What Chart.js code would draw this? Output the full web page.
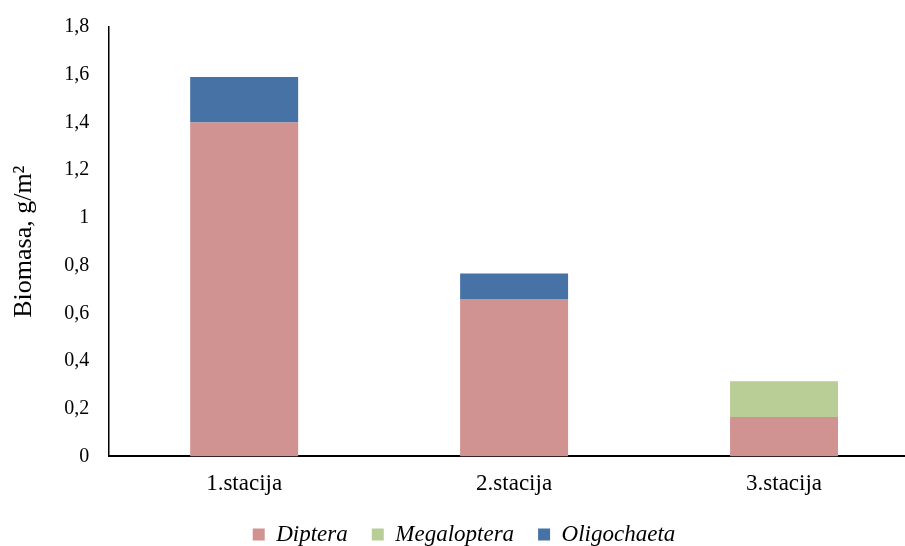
<!DOCTYPE html>
<html>
<head>
<meta charset="utf-8">
<script src="https://cdn.jsdelivr.net/npm/chart.js@4/dist/chart.umd.min.js"></script>
<style>
  html, body { margin: 0; padding: 0; overflow: hidden; background: #fff; }
  #wrap { width: 905px; height: 546px; overflow: hidden; }
</style>
</head>
<body>
<div id="wrap"><canvas id="c" width="920" height="546"></canvas></div>
<script>
// Biomass per station, g/m2
const stations = ['1.stacija', '2.stacija', '3.stacija'];
const diptera = [1.40, 0.66, 0.165];
const megaloptera = [0, 0, 0.15];
const oligochaeta = [0.19, 0.107, 0];
const yTicks = [0, 0.2, 0.4, 0.6, 0.8, 1, 1.2, 1.4, 1.6, 1.8];

const serif = '"Liberation Serif", "Times New Roman", serif';
Chart.defaults.font.family = serif;

new Chart(document.getElementById('c'), {
  type: 'bar',
  data: {
    labels: stations,
    datasets: [
      { label: 'Diptera', data: diptera, backgroundColor: '#D19391' },
      { label: 'Megaloptera', data: megaloptera, backgroundColor: '#B9CD96' },
      { label: 'Oligochaeta', data: oligochaeta, backgroundColor: '#4672A6' }
    ]
  },
  options: {
    responsive: false,
    animation: false,
    barPercentage: 0.4,
    categoryPercentage: 1,
    layout: { padding: { left: 9, right: 1, top: 10, bottom: -10 } },
    plugins: {
      tooltip: { enabled: false },
      legend: {
        position: 'bottom',
        align: 'center',
        labels: {
          color: '#000',
          font: { family: serif, size: 23, style: 'italic' },
          boxWidth: 12,
          boxHeight: 12,
          padding: 24
        }
      }
    },
    scales: {
      x: {
        stacked: true,
        grid: { display: false, drawTicks: false },
        border: { display: true, color: '#000', width: 2 },
        ticks: { color: '#000', font: { family: serif, size: 23 }, padding: 14 },
        // tighten the gap between category labels and the legend
        afterFit: (scale) => { scale.height -= 13; }
      },
      y: {
        stacked: true,
        min: 0,
        max: 1.8,
        afterBuildTicks: (axis) => { axis.ticks = yTicks.map(v => ({ value: v })); },
        // keep the top of the axis close to the canvas edge
        afterFit: (scale) => { scale.paddingTop = 27; },
        grid: { display: false, drawTicks: false },
        border: { display: true, color: '#000', width: 1.5 },
        ticks: {
          color: '#000',
          font: { family: serif, size: 20 },
          padding: 20,
          callback: (v) => String(v).replace('.', ',')
        },
        title: {
          display: true,
          text: 'Biomasa, g/m²',
          color: '#000',
          font: { family: serif, size: 26 },
          padding: { top: 0, bottom: 4 }
        }
      }
    }
  }
});
</script>
</body>
</html>
